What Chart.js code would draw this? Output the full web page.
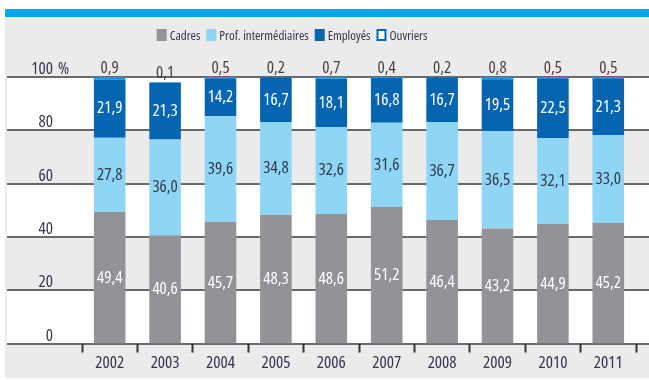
<!DOCTYPE html>
<html>
<head>
<meta charset="utf-8">
<script src="https://cdn.jsdelivr.net/npm/chart.js@4/dist/chart.umd.min.js"></script>
<style>
  html, body { margin: 0; padding: 0; background: #fff; }
  #wrap { width: 649px; height: 380px; }
</style>
</head>
<body>
<div id="wrap"><canvas id="chart" width="649" height="380"></canvas></div>
<script>
const years = ['2002', '2003', '2004', '2005', '2006', '2007', '2008', '2009', '2010', '2011'];
const cadres = [49.4, 40.6, 45.7, 48.3, 48.6, 51.2, 46.4, 43.2, 44.9, 45.2];
const profInter = [27.8, 36.0, 39.6, 34.8, 32.6, 31.6, 36.7, 36.5, 32.1, 33.0];
const employes = [21.9, 21.3, 14.2, 16.7, 18.1, 16.8, 16.7, 19.5, 22.5, 21.3];
const ouvriers = [0.9, 0.1, 0.5, 0.2, 0.7, 0.4, 0.2, 0.8, 0.5, 0.5];
const yTicks = [0, 20, 40, 60, 80, 100];

// condensed face of Open Sans, picked through font-stretch
const FAMILY = '"Open Sans", sans-serif';
const NARROW = (size) => 'condensed ' + size + 'px ' + FAMILY;
const TEXT_DARK = '#34344a';
const GRAY_BG = '#ebebeb';
const LINE = '#6a6a6a';

function fmt(v) {
    return v.toFixed(1).replace('.', ',');
}

// background panel, alternating bands and horizontal rules
const backdrop = {
    id: 'backdrop',
    beforeDraw(chart) {
        const ctx = chart.ctx;
        const y = chart.scales.y;
        ctx.save();
        ctx.fillStyle = '#fff';
        ctx.fillRect(0, 0, chart.width, chart.height);
        ctx.fillStyle = '#00a8e6';
        ctx.fillRect(5, 9, chart.width - 5, 8);
        ctx.fillStyle = GRAY_BG;
        ctx.fillRect(5, 17, chart.width - 5, 361);
        ctx.fillStyle = '#fff';
        for (let v = 0; v < 100; v += 40) {
            const top = y.getPixelForValue(v + 20);
            const bot = y.getPixelForValue(v);
            ctx.fillRect(7, top, chart.width - 7, bot - top);
        }
        ctx.strokeStyle = LINE;
        ctx.lineWidth = 2;
        yTicks.forEach(v => {
            const py = Math.round(y.getPixelForValue(v));
            ctx.beginPath();
            ctx.moveTo(7, py);
            ctx.lineTo(chart.width, py);
            ctx.stroke();
        });
        ctx.restore();
    },
    afterDraw(chart) {
        // y labels sit just above their rule
        const ctx = chart.ctx;
        const y = chart.scales.y;
        ctx.save();
        ctx.font = NARROW(17);
        ctx.fillStyle = TEXT_DARK;
        ctx.textBaseline = 'alphabetic';
        yTicks.forEach(v => {
            const py = y.getPixelForValue(v) - 3;
            ctx.textAlign = 'right';
            ctx.fillText(String(v), 53, py);
            if (v === 100) {
                ctx.textAlign = 'left';
                ctx.fillText('%', 58, py);
            }
        });
        ctx.restore();
    }
};

// values written on / above each segment
const segmentLabels = {
    id: 'segmentLabels',
    afterDatasetsDraw(chart) {
        const ctx = chart.ctx;
        ctx.save();
        ctx.font = NARROW(17);
        ctx.textAlign = 'center';
        chart.data.datasets.forEach((ds, i) => {
            const meta = chart.getDatasetMeta(i);
            meta.data.forEach((bar, j) => {
                const v = ds.data[j];
                ctx.fillStyle = ds.labelColor;
                if (i === 3) {
                    ctx.textBaseline = 'alphabetic';
                    ctx.fillText(fmt(v), bar.x, bar.y - 4);
                } else {
                    ctx.textBaseline = 'middle';
                    ctx.fillText(fmt(v), bar.x, (bar.y + bar.base) / 2);
                }
            });
        });
        ctx.restore();
    }
};

// compact legend row above the plot
const legendRow = {
    id: 'legendRow',
    afterDraw(chart) {
        const ctx = chart.ctx;
        const items = chart.data.datasets;
        ctx.save();
        ctx.font = NARROW(13);
        const boxW = 10, boxH = 12, gap = 3, spacing = 6;
        let total = 0;
        items.forEach(ds => { total += boxW + gap + ctx.measureText(ds.label).width + spacing; });
        total -= spacing;
        let x = 292 - total / 2;
        const cy = 35;
        ctx.textBaseline = 'middle';
        ctx.textAlign = 'left';
        items.forEach(ds => {
            if (ds.legendOutline) {
                ctx.fillStyle = '#fff';
                ctx.fillRect(x, cy - boxH / 2, boxW, boxH);
                ctx.strokeStyle = ds.legendOutline;
                ctx.lineWidth = 2;
                ctx.strokeRect(x + 1, cy - boxH / 2 + 1, boxW - 2, boxH - 2);
            } else {
                ctx.fillStyle = ds.backgroundColor;
                ctx.fillRect(x, cy - boxH / 2, boxW, boxH);
            }
            x += boxW + gap;
            ctx.fillStyle = TEXT_DARK;
            ctx.fillText(ds.label, x, cy + 1);
            x += ctx.measureText(ds.label).width + spacing;
        });
        ctx.restore();
    }
};

new Chart(document.getElementById('chart'), {
    type: 'bar',
    data: {
        labels: years,
        datasets: [
            { label: 'Cadres', data: cadres, backgroundColor: '#929397', labelColor: '#ffffff' },
            { label: 'Prof. intermédiaires', data: profInter, backgroundColor: '#8fd5f6', labelColor: '#2f3a4a' },
            { label: 'Employés', data: employes, backgroundColor: '#0565b0', labelColor: '#ffffff' },
            { label: 'Ouvriers', data: ouvriers, backgroundColor: '#1f95dc', legendOutline: '#0565b0', labelColor: '#4a3f3c' }
        ]
    },
    options: {
        responsive: false,
        animation: false,
        layout: {
            padding: { left: 82, right: 13, top: 77, bottom: 7 }
        },
        datasets: {
            bar: {
                barPercentage: 0.57,
                categoryPercentage: 1.0,
                borderWidth: 0
            }
        },
        scales: {
            x: {
                stacked: true,
                grid: {
                    offset: true,
                    drawOnChartArea: false,
                    drawTicks: true,
                    tickLength: 9,
                    tickWidth: 2,
                    tickColor: '#333'
                },
                border: { display: false },
                ticks: {
                    color: TEXT_DARK,
                    padding: 0,
                    font: { family: FAMILY, weight: 'condensed', size: 17 }
                }
            },
            y: {
                stacked: true,
                display: false,
                min: 0,
                max: 100,
                ticks: { stepSize: 20 }
            }
        },
        plugins: {
            legend: { display: false },
            tooltip: { enabled: false }
        }
    },
    plugins: [backdrop, segmentLabels, legendRow]
});
</script>
</body>
</html>
